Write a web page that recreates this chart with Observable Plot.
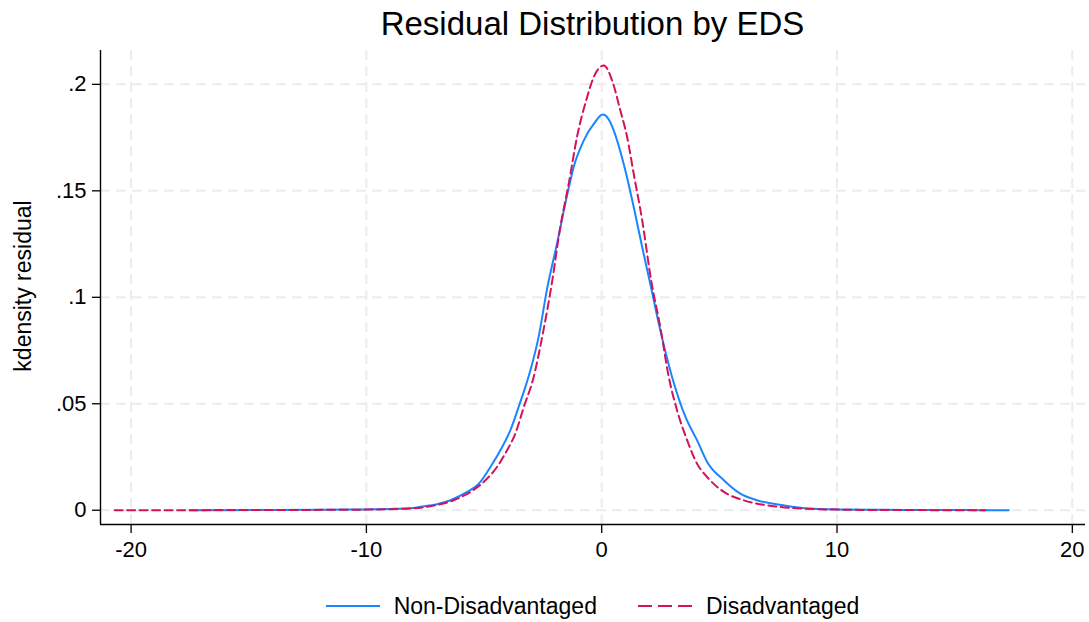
<!DOCTYPE html>
<html>
<head>
<meta charset="utf-8">
<script src="https://cdn.jsdelivr.net/npm/d3@7"></script>
<script src="https://cdn.jsdelivr.net/npm/@observablehq/plot@0.6"></script>
<style>
  html, body { margin: 0; padding: 0; background: #fff; }
  body { width: 1089px; height: 622px; position: relative; overflow: hidden;
         font-family: "Liberation Sans", Arial, Helvetica, sans-serif; color: #000; }
  #title { position: absolute; left: 100px; width: 985px; top: 7px; text-align: center;
           font-size: 33px; line-height: 33px; white-space: nowrap; z-index: 2; }
  #ylabel { position: absolute; left: 23px; top: 286px; transform: translate(-50%, -50%) rotate(-90deg);
            font-size: 23px; line-height: 23px; white-space: nowrap; z-index: 2; }
  #chart { position: absolute; left: 0; top: 40px; z-index: 1; }
  #legend { position: absolute; left: 100px; width: 985px; top: 594px; display: flex;
            justify-content: center; align-items: center; font-size: 23px; line-height: 24px; z-index: 2; }
  .item { display: flex; align-items: center; }
  .item svg { margin-right: 14px; }
  .item + .item { margin-left: 41px; }
</style>
</head>
<body>
<div id="chart"></div>
<div id="title"></div>
<div id="ylabel"></div>
<div id="legend"></div>
<script>
// ---- data ----
const titleText = "Residual Distribution by EDS";
const yLabelText = "kdensity residual";
const seriesNames = ["Non-Disadvantaged", "Disadvantaged"];
const seriesColors = ["#1a85ff", "#d41159"];

const xTicks = [-20, -10, 0, 10, 20];
const xTickLabels = ["-20", "-10", "0", "10", "20"];
const yTicks = [0, 0.05, 0.1, 0.15, 0.2];
const yTickLabels = ["0", ".05", ".1", ".15", ".2"];
const xDomain = [-21.3, 20.56];
const yDomain = [-0.0067, 0.2159];

const nonX = [-17.5, -16, -14, -12, -11, -10, -9, -8, -7.7, -7, -6.43, -5.72, -5.22, -4.73, -4.23, -3.88, -3.53, -3.03, -2.68, -2.32, -1.9, -1.43, -1.19, -0.76, -0.3, 0.04, 0.3, 0.51, 0.93, 1.36, 1.72, 2.07, 2.49, 2.99, 3.56, 4.05, 4.48, 5.19, 5.89, 6.6, 7.73, 8.8, 10, 12, 14, 16, 17.3];
const nonY = [0, 0.00005, 0.0001, 0.0002, 0.0003, 0.0004, 0.0006, 0.0011, 0.0016, 0.0028, 0.0047, 0.0086, 0.0125, 0.0203, 0.0297, 0.0376, 0.0485, 0.0657, 0.0814, 0.1041, 0.1252, 0.1500, 0.1612, 0.1737, 0.1820, 0.1858, 0.1835, 0.1784, 0.1628, 0.1424, 0.1236, 0.1060, 0.0845, 0.0626, 0.0438, 0.0329, 0.0227, 0.0141, 0.0078, 0.0047, 0.0023, 0.0008, 0.0004, 0.0002, 0.0001, 0.00005, 0];

const disX = [-20.7, -18, -15, -13, -11, -10, -9, -8, -7.28, -6.29, -5.58, -4.94, -4.45, -4.02, -3.67, -3.31, -2.89, -2.53, -2.11, -1.76, -1.40, -1.05, -0.62, -0.34, 0.09, 0.44, 0.79, 1.08, 1.36, 1.72, 2.1, 2.49, 2.85, 3.2, 3.63, 4.05, 4.48, 5.19, 6.03, 7.31, 8.44, 10, 12, 14, 16.3];
const disY = [0, 0.00003, 0.0001, 0.00015, 0.0002, 0.0003, 0.0005, 0.0009, 0.0019, 0.0047, 0.0086, 0.0141, 0.0203, 0.0282, 0.0360, 0.0485, 0.0626, 0.0814, 0.1072, 0.1330, 0.1534, 0.1753, 0.1940, 0.2034, 0.2089, 0.2019, 0.1878, 0.1753, 0.1580, 0.1362, 0.1080, 0.0860, 0.0626, 0.0470, 0.0329, 0.0219, 0.0156, 0.0086, 0.0047, 0.0019, 0.0008, 0.0003, 0.0001, 0.00005, 0];

// ---- build ----
const nonData = nonX.map((x, i) => ({x, y: nonY[i]}));
const disData = disX.map((x, i) => ({x, y: disY[i]}));

document.getElementById("title").textContent = titleText;
document.getElementById("ylabel").textContent = yLabelText;

const gridStyle = {stroke: "#ececec", strokeOpacity: 1, strokeWidth: 2, strokeDasharray: "10,6"};

const chart = Plot.plot({
  width: 1089,
  height: 534,
  marginLeft: 100,
  marginRight: 4,
  marginTop: 10,
  marginBottom: 50,
  style: {fontFamily: "'Liberation Sans', Arial, Helvetica, sans-serif", fontSize: "22px", color: "#000", background: "transparent"},
  x: {domain: xDomain},
  y: {domain: yDomain},
  marks: [
    Plot.gridX(xTicks, gridStyle),
    Plot.gridY(yTicks, gridStyle),
    Plot.ruleX([xDomain[0]], {stroke: "#000", strokeWidth: 1.4}),
    Plot.ruleY([yDomain[0]], {stroke: "#000", strokeWidth: 1.4}),
    Plot.axisX({ticks: xTicks, tickFormat: (d) => xTickLabels[xTicks.indexOf(d)], tickSize: 9, tickPadding: 8, label: null, stroke: "#000", strokeWidth: 1.3}),
    Plot.axisY({ticks: yTicks, tickFormat: (d) => yTickLabels[yTicks.indexOf(d)], tickSize: 8, tickPadding: 6, label: null, stroke: "#000", strokeWidth: 1.3}),
    Plot.line(nonData, {x: "x", y: "y", stroke: seriesColors[0], strokeWidth: 2, curve: "monotone-x"}),
    Plot.line(disData, {x: "x", y: "y", stroke: seriesColors[1], strokeWidth: 2, strokeDasharray: "8,4.5", curve: "monotone-x"})
  ]
});
document.getElementById("chart").appendChild(chart);

// ---- legend ----
const legend = document.getElementById("legend");
seriesNames.forEach((name, i) => {
  const item = document.createElement("div");
  item.className = "item";
  const dash = i === 1 ? 'stroke-dasharray="14,6"' : '';
  item.innerHTML = `<svg width="54" height="6"><line x1="0" x2="54" y1="3" y2="3" stroke="${seriesColors[i]}" stroke-width="2.2" ${dash}/></svg><span>${name}</span>`;
  legend.appendChild(item);
});
</script>
</body>
</html>
